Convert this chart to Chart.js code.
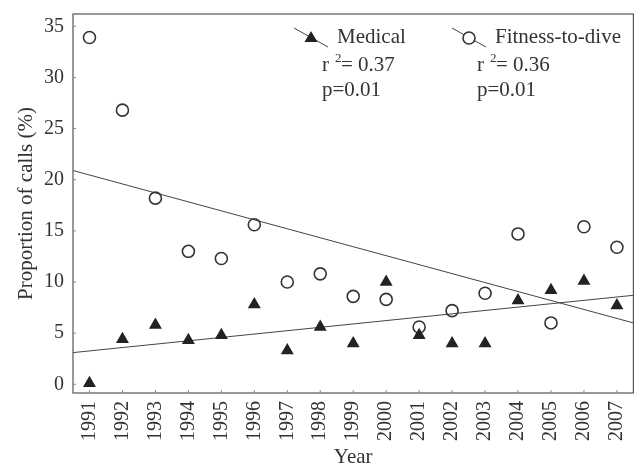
<!DOCTYPE html>
<html>
<head>
<meta charset="utf-8">
<script src="https://cdn.jsdelivr.net/npm/chart.js@4/dist/chart.umd.min.js"></script>
<style>
  html, body { margin: 0; padding: 0; background: #fff; }
  #wrap { width: 641px; height: 472px; }
</style>
</head>
<body>
<div id="wrap"><canvas id="callsChart" width="641" height="472"></canvas></div>
<script>
// data
const years = [1991, 1992, 1993, 1994, 1995, 1996, 1997, 1998, 1999, 2000, 2001, 2002, 2003, 2004, 2005, 2006, 2007];
const medical = [0.1, 4.4, 5.8, 4.3, 4.8, 7.8, 3.3, 5.6, 4.0, 10.0, 4.8, 4.0, 4.0, 8.2, 9.2, 10.1, 7.7];
const fitness = [33.9, 26.8, 18.2, 13.0, 12.3, 15.6, 10.0, 10.8, 8.6, 8.3, 5.6, 7.2, 8.9, 14.7, 6.0, 15.4, 13.4];
const trendYears = [1990.5, 2007.5];
const medicalTrend = [3.1, 8.7];
const fitnessTrend = [20.9, 6.0];
const yTicks = [0, 5, 10, 15, 20, 25, 30, 35];
const seriesNames = ["Medical", "Fitness-to-dive"];
const rSquared = ["0.37", "0.36"];
const pValues = ["p=0.01", "p=0.01"];

const ink = "#333";
const serif = "'Liberation Serif', 'DejaVu Serif', serif";

function pts(xs, ys) {
  return xs.map((x, i) => ({ x: x, y: ys[i] }));
}

// keep the plot box fixed: no extra room for overhanging labels
function fixPadding(s) {
  s.paddingLeft = 0;
  s.paddingRight = 0;
  s.paddingTop = 0;
  s.paddingBottom = 0;
}

// frame, small inward ticks and the in-plot legend with stats
const framePlugin = {
  id: "frame",
  afterDatasetsDraw(chart) {
    const { ctx, chartArea: a, scales } = chart;
    ctx.save();
    ctx.strokeStyle = "#555";
    ctx.lineWidth = 1.2;
    ctx.strokeRect(a.left, a.top, a.right - a.left, a.bottom - a.top);

    ctx.lineWidth = 1;
    ctx.strokeStyle = "#888";
    ctx.beginPath();
    years.forEach(v => {
      const px = scales.x.getPixelForValue(v);
      ctx.moveTo(px, a.bottom);
      ctx.lineTo(px, a.bottom - 3);
    });
    yTicks.forEach(v => {
      const py = scales.y.getPixelForValue(v);
      ctx.moveTo(a.left, py);
      ctx.lineTo(a.left + 3, py);
    });
    ctx.stroke();

    const items = [
      { x: a.left + 222, style: "triangle" },
      { x: a.left + 380, style: "circle" }
    ];
    items.forEach((it, i) => {
      const cx = it.x + 16, cy = a.top + 24;
      ctx.strokeStyle = "#444";
      ctx.lineWidth = 1;
      ctx.beginPath();
      ctx.moveTo(cx - 17, cy - 10);
      ctx.lineTo(cx + 17, cy + 9);
      ctx.stroke();
      if (it.style === "triangle") {
        ctx.fillStyle = "#222";
        ctx.beginPath();
        ctx.moveTo(cx, cy - 7);
        ctx.lineTo(cx + 6.5, cy + 4);
        ctx.lineTo(cx - 6.5, cy + 4);
        ctx.closePath();
        ctx.fill();
      } else {
        ctx.fillStyle = "#fff";
        ctx.lineWidth = 1.6;
        ctx.strokeStyle = "#333";
        ctx.beginPath();
        ctx.arc(cx, cy, 6, 0, Math.PI * 2);
        ctx.fill();
        ctx.stroke();
      }
      ctx.fillStyle = ink;
      ctx.textBaseline = "middle";
      ctx.textAlign = "left";
      ctx.font = "21px " + serif;
      ctx.fillText(seriesNames[i], cx + 26, cy - 1);
      const tx = cx + 11 - (i ? 3 : 0);
      ctx.fillText("r", tx, cy + 27);
      const rw = ctx.measureText("r").width;
      ctx.font = "13px " + serif;
      ctx.fillText("2", tx + rw + 6, cy + 21);
      ctx.font = "21px " + serif;
      ctx.fillText("= " + rSquared[i], tx + rw + 12, cy + 27);
      ctx.fillText(pValues[i], tx, cy + 52);
    });
    ctx.restore();
  }
};

new Chart(document.getElementById("callsChart").getContext("2d"), {
  type: "scatter",
  data: {
    datasets: [
      {
        label: seriesNames[0],
        data: pts(years, medical),
        pointStyle: "triangle",
        pointRadius: 7.5,
        pointBackgroundColor: "#222",
        pointBorderColor: "#222",
        pointBorderWidth: 0
      },
      {
        label: seriesNames[1],
        data: pts(years, fitness),
        pointStyle: "circle",
        pointRadius: 6,
        pointBackgroundColor: "rgba(255,255,255,0)",
        pointBorderColor: "#333",
        pointBorderWidth: 1.6
      },
      {
        label: "Medical trend",
        data: pts(trendYears, medicalTrend),
        showLine: true,
        pointRadius: 0,
        borderColor: "#444",
        borderWidth: 1
      },
      {
        label: "Fitness trend",
        data: pts(trendYears, fitnessTrend),
        showLine: true,
        pointRadius: 0,
        borderColor: "#444",
        borderWidth: 1
      }
    ]
  },
  options: {
    responsive: false,
    animation: false,
    events: [],
    layout: { padding: { top: 14, right: 6, left: 0, bottom: 0 } },
    plugins: {
      legend: { display: false },
      tooltip: { enabled: false }
    },
    scales: {
      x: {
        type: "linear",
        min: 1990.5,
        max: 2007.5,
        afterBuildTicks: s => { s.ticks = years.map(v => ({ value: v })); },
        afterFit: s => { s.height = 79; fixPadding(s); },
        border: { display: false },
        grid: { display: false, drawTicks: false, tickLength: 0 },
        ticks: {
          color: ink,
          font: { family: serif, size: 20 },
          minRotation: 90,
          maxRotation: 90,
          padding: 8,
          callback: v => String(v)
        },
        title: {
          display: true,
          text: "Year",
          color: ink,
          font: { family: serif, size: 21 },
          padding: { top: 0, bottom: 2 }
        }
      },
      y: {
        min: -0.85,
        max: 36.2,
        afterBuildTicks: s => { s.ticks = yTicks.map(v => ({ value: v })); },
        afterFit: s => { s.width = 73; fixPadding(s); },
        border: { display: false },
        grid: { display: false, drawTicks: false, tickLength: 0 },
        ticks: {
          color: ink,
          font: { family: serif, size: 20 },
          padding: 9,
          callback: v => String(v)
        },
        title: {
          display: true,
          text: "Proportion of calls (%)",
          color: ink,
          font: { family: serif, size: 21 },
          padding: { top: 14, bottom: 4 }
        }
      }
    }
  },
  plugins: [framePlugin]
});
</script>
</body>
</html>
